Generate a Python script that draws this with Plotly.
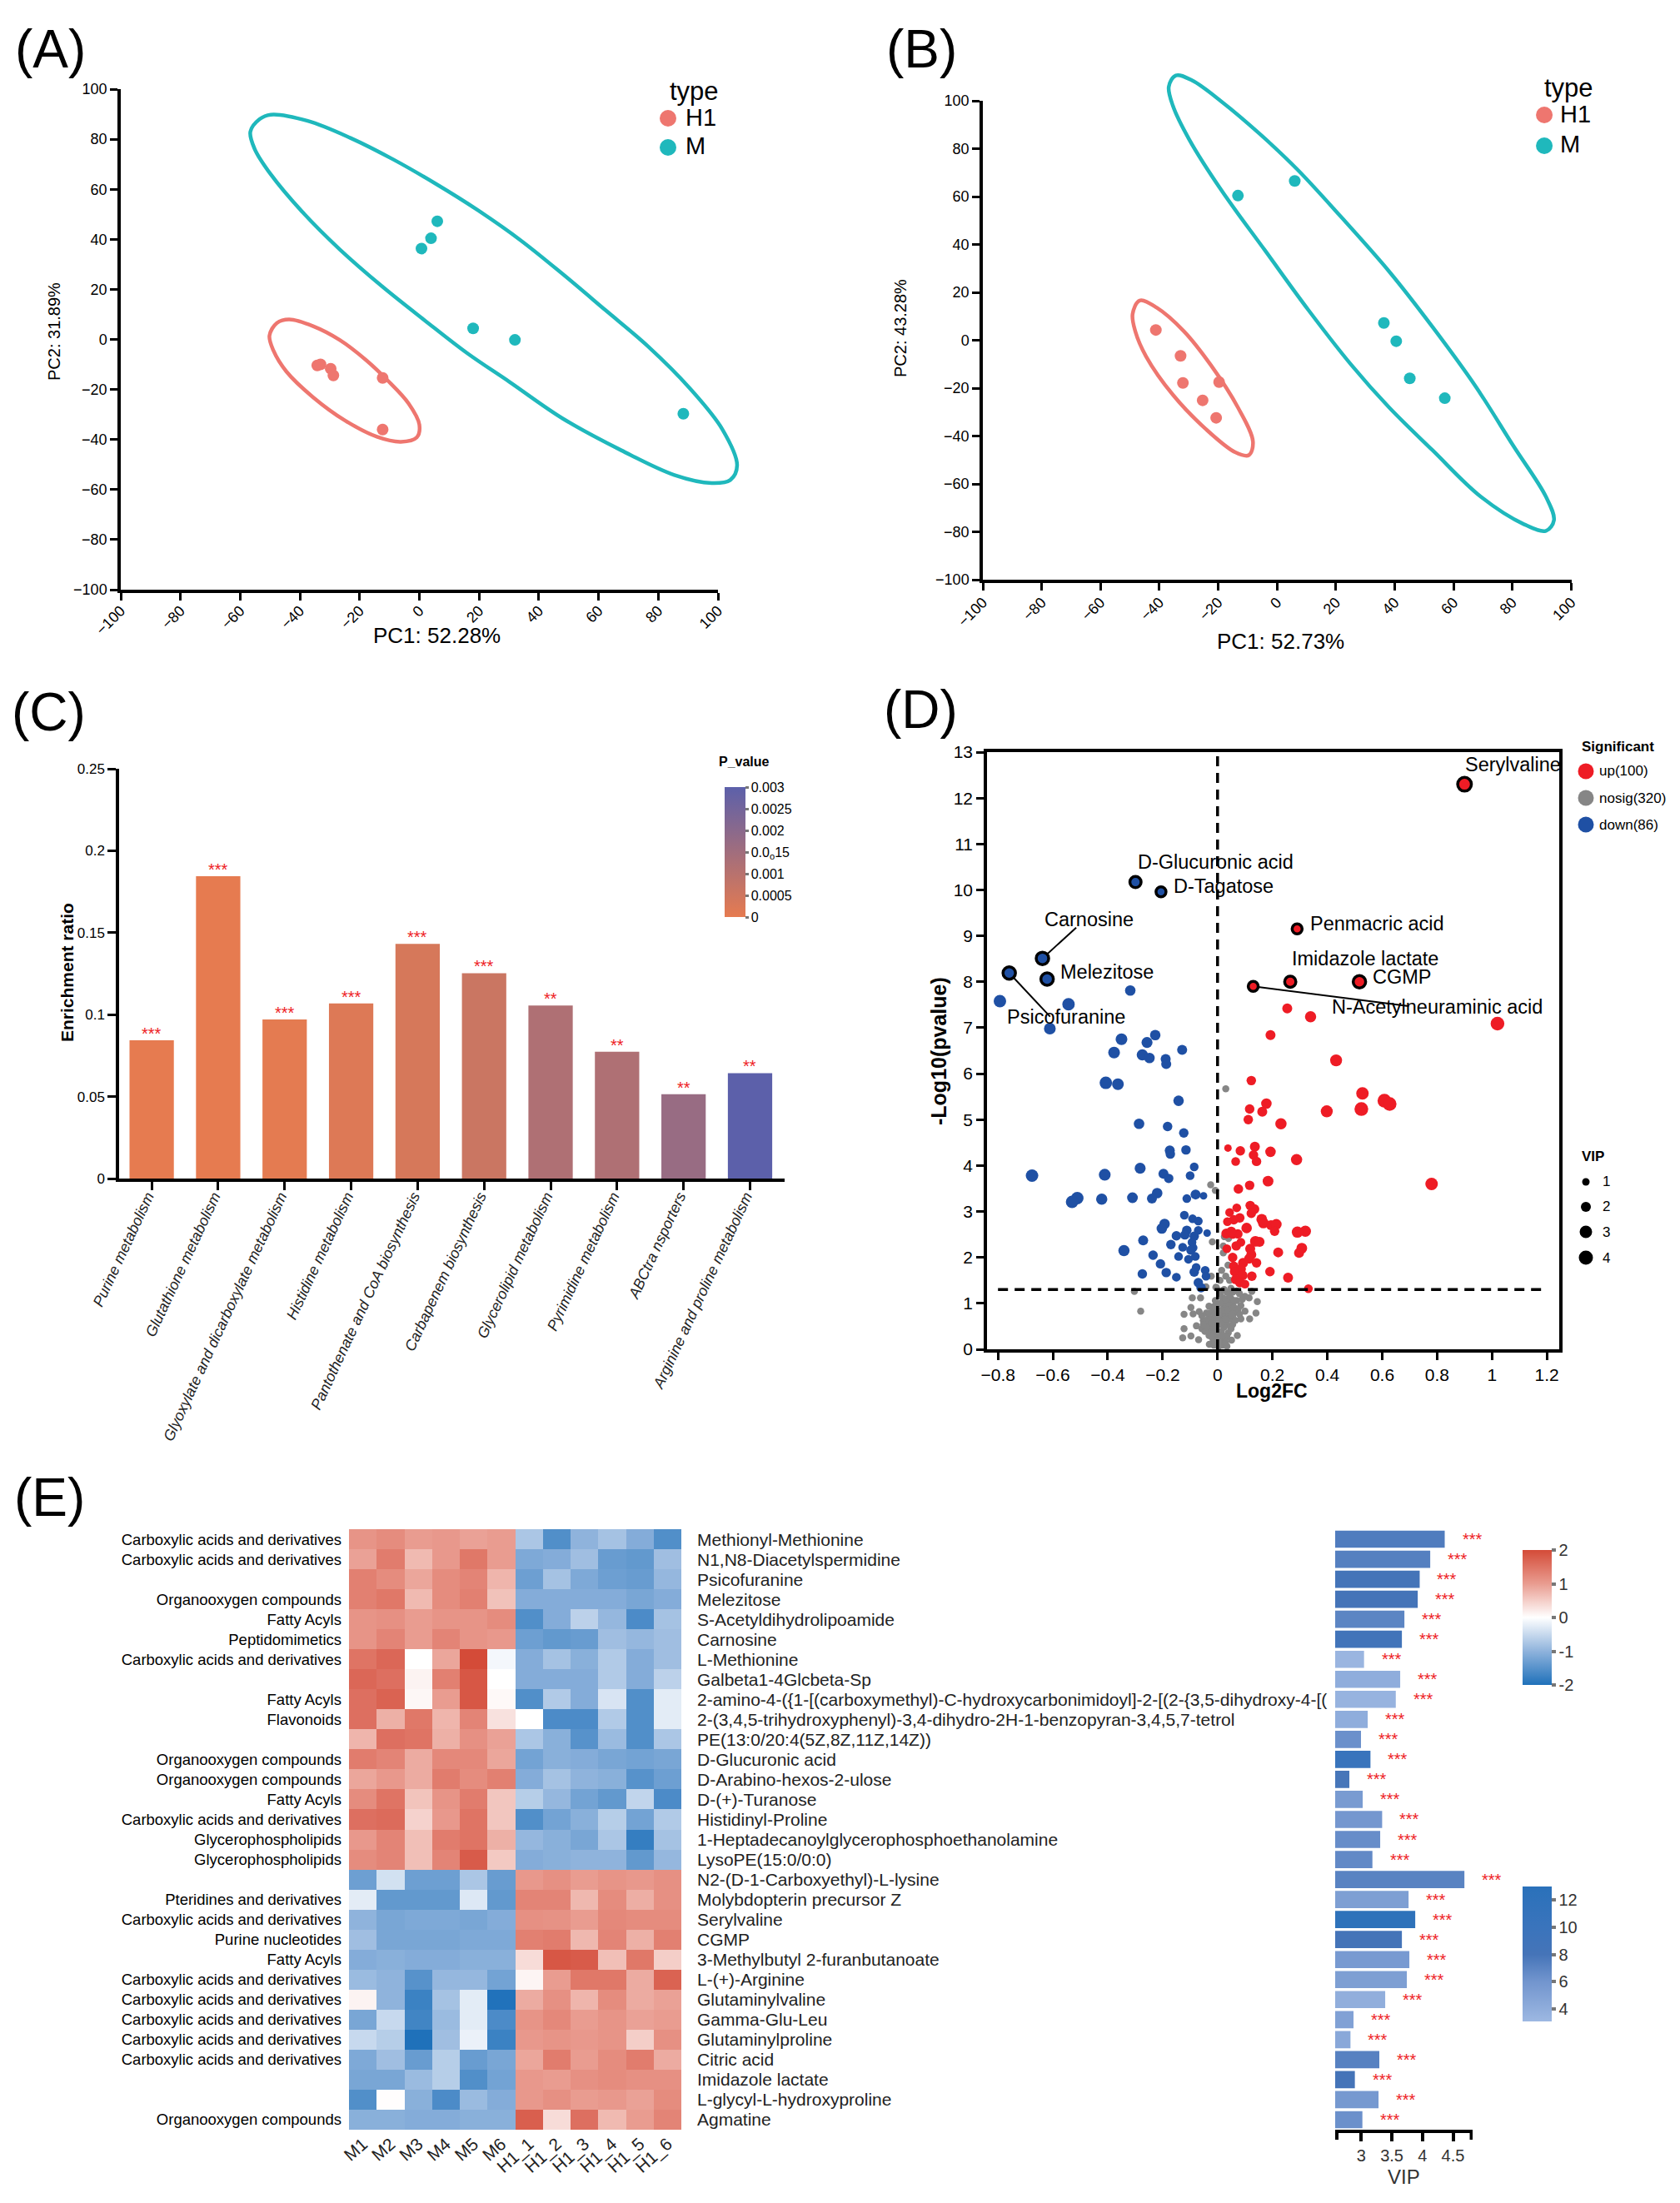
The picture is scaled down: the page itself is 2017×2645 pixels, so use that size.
import plotly.graph_objects as go

W = 2017
H = 2645
FONT = "Liberation Sans"
RED = "#EE766F"
TEAL = "#1FB8BC"

# panel A, values
a_h1_x = [-34.2, -33.1, -29.7, -28.8, -12.3, -12.3]
a_h1_y = [-10.4, -10.0, -11.7, -14.4, -15.4, -36.0]
a_m_x = [6.0, 3.9, 0.7, 18.0, 32.0, 88.4]
a_m_y = [47.2, 40.4, 36.3, 4.4, -0.2, -29.7]
a_h1_ell_x = [-50.2, -47.7, -43.6, -35.6, -26.7, -17.8, -10.7, -3.6, 0, -0.9, -6.2, -14.2, -24.9, -35.6, -44.5, -48.9, -50.2]
a_h1_ell_y = [1.5, 6.6, 8.0, 5.3, -0.2, -8.3, -16.3, -25.6, -34.1, -39.2, -40.9, -38.9, -32.4, -23.1, -12.9, -4.4, 1.5]
a_m_ell_x = [-56.6, -53.5, -49.8, -37.4, -23.1, -8.9, 5.3, 19.6, 33.8, 48.0, 62.3, 76.5, 90.7, 101.4, 106.4, 104.1, 97.9, 85.4, 67.6, 48.0, 30.2, 16.0, 1.8, -12.5, -26.7, -39.1, -49.8, -55.2, -56.6]
a_m_ell_y = [83.0, 88.0, 89.8, 87.3, 80.5, 72.0, 62.3, 51.6, 39.7, 26.1, 11.7, -2.7, -19.7, -35.8, -50.3, -56.2, -57.4, -54.2, -44.3, -31.6, -17.0, -5.5, 7.6, 21.2, 36.0, 50.8, 66.0, 76.2, 83.0]

# panel B
b_h1_x = [-41.2, -32.8, -32.0, -19.7, -25.3, -20.7]
b_h1_y = [4.3, -6.5, -17.8, -17.5, -25.1, -32.4]
b_m_x = [-13.3, 6.0, 36.3, 40.5, 45.1, 57.0]
b_m_y = [60.4, 66.5, 7.2, -0.4, -15.9, -24.2]
b_h1_ell_x = [-49.1, -46.7, -40.9, -31.7, -22.5, -13.3, -8.2, -9.6, -14.2, -24.3, -35.4, -44.5, -48.2, -49.1]
b_h1_ell_y = [10.9, 16.6, 13.6, 3.8, -10.4, -28.1, -42.3, -48.0, -46.8, -37.0, -22.8, -6.8, 3.8, 10.9]
b_m_ell_x = [-36.8, -34.4, -28.9, -18.8, -6.0, 6.9, 21.6, 38.1, 52.8, 67.5, 80.3, 91.4, 94.1, 91.4, 84.0, 69.3, 52.8, 38.1, 25.3, 10.6, -4.1, -18.8, -29.8, -35.4, -36.8]
b_m_ell_y = [105.9, 110.6, 108.5, 99.6, 86.3, 71.3, 51.7, 28.7, 5.6, -19.3, -44.1, -65.4, -75.2, -79.6, -76.9, -65.4, -45.9, -28.1, -10.4, 12.7, 37.5, 62.4, 83.7, 97.9, 105.9]

# panel C
pathways = ["Purine metabolism", "Glutathione metabolism", "Glyoxylate and dicarboxylate metabolism",
            "Histidine metabolism", "Pantothenate and CoA biosynthesis", "Carbapenem biosynthesis",
            "Glycerolipid metabolism", "Pyrimidine metabolism", "ABCtra nsporters",
            "Arginine and proline metabolism"]
enrichment = [0.0844, 0.1844, 0.097, 0.1068, 0.1432, 0.1253, 0.1056, 0.0773, 0.0514, 0.0643]
p_values = [0.00001, 0.00001, 0.00005, 0.0002, 0.00035, 0.0006, 0.0012, 0.0012, 0.0017, 0.003]
path_stars = ["***", "***", "***", "***", "***", "***", "**", "**", "**", "**"]
p_ticks = [0, 0.0005, 0.001, 0.0015, 0.002, 0.0025, 0.003]
p_tick_text = ["0", "0.0005", "0.001", "0.0<sub>o</sub>15", "0.002", "0.0025", "0.003"]

# panel D
up_x = [1.02, .254, .339, .193, .432, .123, .528, .608, .627, .524, .398, .178, .117, .163, .112, .231, .038, .083, .136, .193, .131, .142, .066, .288, .78, .184, .117, .076, .119, .134, .07, .044, .123, .081, .059, .036, .161, .167, .195, .214, .208, .106, .32, .291, .032, .055, .074, .05, .138, .153, .085, .068, .119, .034, .307, .297, .221, .123, .055, .115, .142, .093, .059, .085, .062, .191, .091, .125, .257, .066, .081, .1, .331]
up_y = [7.09, 7.42, 7.24, 6.84, 6.29, 5.85, 5.57, 5.41, 5.34, 5.23, 5.18, 5.35, 5.23, 5.17, 5.0, 4.91, 4.38, 4.32, 4.41, 4.3, 4.23, 4.09, 4.09, 4.13, 3.6, 3.66, 3.57, 3.49, 3.13, 3.05, 3.08, 2.98, 2.96, 2.86, 2.82, 2.78, 2.83, 2.75, 2.7, 2.72, 2.57, 2.64, 2.57, 2.55, 2.52, 2.51, 2.51, 2.56, 2.35, 2.34, 2.33, 2.25, 2.19, 2.19, 2.2, 2.1, 2.11, 2.06, 2.0, 1.97, 1.88, 1.88, 1.81, 1.75, 1.69, 1.69, 1.61, 1.59, 1.56, 1.52, 1.45, 1.42, 1.32]
up_vip = [3.5, 2, 2.5, 2, 2.8, 1.8, 3, 3.5, 3.5, 3.5, 2.8, 2.2, 1.8, 2, 1.8, 2.5, 1, 1.8, 2, 2.2, 1.8, 1.8, 1.5, 2.5, 3, 2.3, 1.8, 1.8, 1.8, 2, 1.5, 1.5, 1.8, 1.8, 1.8, 1.5, 2.3, 2.3, 2, 2.3, 1.8, 2.2, 2.5, 2.5, 2, 2, 1.8, 2, 2.3, 2, 1.5, 1.8, 2, 1.5, 2.3, 2, 2, 2, 1.8, 2, 1.8, 2, 1.8, 2, 1.8, 1.8, 2, 1.8, 2, 1.8, 1.8, 1.5, 1.5]
down_x = [-.793, -.543, -.318, -.611, -.35, -.227, -.257, -.129, -.377, -.274, -.248, -.189, -.187, -.407, -.363, -.142, -.286, -.182, -.123, -.174, -.172, -.115, -.085, -.282, -.197, -.178, -.1, -.411, -.676, -.22, -.08, -.051, -.112, -.239, -.31, -.422, -.511, -.53, -.121, -.091, -.07, -.193, -.203, -.112, -.07, -.038, -.15, -.119, -.085, -.271, -.093, -.17, -.127, -.089, -.097, -.341, -.235, -.142, -.106, -.081, -.208, -.078, -.045, -.085, -.187, -.042, -.274, -.15, -.07, -.06]
down_y = [7.58, 7.51, 7.81, 6.98, 6.75, 6.84, 6.68, 6.52, 6.46, 6.41, 6.34, 6.32, 6.21, 5.8, 5.77, 5.41, 4.91, 4.85, 4.71, 4.33, 4.25, 4.34, 3.97, 3.94, 3.82, 3.72, 3.78, 3.8, 3.78, 3.4, 3.37, 3.34, 3.28, 3.28, 3.3, 3.27, 3.29, 3.21, 2.92, 2.84, 2.79, 2.73, 2.63, 2.59, 2.59, 2.53, 2.47, 2.49, 2.46, 2.37, 2.33, 2.28, 2.22, 2.21, 2.16, 2.15, 2.05, 2.02, 1.96, 2.02, 1.86, 1.78, 1.72, 1.68, 1.67, 1.59, 1.64, 1.57, 1.45, 1.34]
down_vip = [3, 3, 2.2, 2.7, 2.7, 2.2, 2.4, 2, 2.7, 2.5, 2.2, 2, 2, 3, 2.7, 2.2, 2.2, 1.8, 1.8, 2, 1.8, 1.8, 1.5, 2.4, 2, 1.8, 1.5, 2.7, 3, 2.2, 2, 1, 1.5, 2, 2.3, 2.5, 3, 3, 1.5, 1.5, 1.5, 2.2, 2.2, 1.8, 1.5, 1, 1.8, 1.8, 1.8, 2, 1.5, 1.8, 1.5, 1.5, 1.8, 2.5, 1.8, 1.5, 1.5, 1.5, 1.8, 1.5, 1.5, 1.8, 1.8, 1.5, 1.8, 1.5, 1.8, 1.8]
nosig_x = [-.006, .125, .115, .145, .14, .117, .085, .1, .085, .07, .049, .019, -.008, -.031, -.067, -.097, -.092, -.062, -.122, -.089, -.122, -.127, -.097, -.069, -.077, -.052, -.057, -.03, -.021, -.036, -.046, -.031, -.016, -.001, .019, .034, .051, .072, .039, .055, .034, .014, -.006, .014, .004, .024, .044, .065, .044, .024, .009, .029, -.016, -.034, -.057, .009, .034, .055, .08, .019, .039, .055, -.016, -.021, -.001, .024, -.001, -.014, .009, .055, .03, -.025, -.008, -.303, -.28, -.019, .021, .025, .04, .038, .015, .03, .044, .009, -.023, -.004, .021, -.042,
           -.041, -.046, -.031, -.011, -.021, -.006, .009, .019, .029, .039, .049, .06, .034, .014, -.001, -.011, .009, .029, .044, .06, .075, .08, .065, .049, .034, .019, -.006, -.021, -.036, -.011, .004, .029, -.041, -.052, .024, .049, .07, .1, .09]
nosig_y = [1.35, 1.26, 1.12, 1.04, .79, .66, .66, .83, .95, 1.06, 1.1, 1.12, 1.06, .94, .82, .91, 1.12, 1.12, .76, .77, .45, .25, .29, .21, .51, .63, .45, .11, .66, .54, .39, .3, .21, .09, .09, .07, .2, .3, .36, .54, .54, .66, .54, .39, .24, .21, .66, .82, .88, .91, .76, .76, .85, .66, .73, 1.21, 1.24, 1.24, 1.21, 1.03, 1.0, .97, .39, .48, .36, .48, .66, .09, .15, .73, 5.67, 3.58, 3.46, 1.26, .83, 2.34, 2.25, 2.45, 2.41, 1.83, 1.72, 1.59, 1.5, 1.5, 1.59, 1.34, 2.1, 1.36,
           .79, .6, .79, .76, .57, .45, .54, .6, .66, .79, .76, .91, .85, .85, .85, .94, 1.0, 1.09, 1.15, 1.06, .88, .76, .63, .45, .27, .3, .3, .27, .39, .15, .06, .15, .48, .54, 1.3, 1.33, 1.27, 1.15, 1.09]
key_up_x = [.90, .29, .265, .517, .13]
key_up_y = [12.3, 9.15, 8.0, 8.0, 7.9]
key_up_vip = [3.5, 2, 2.5, 3, 2]
key_down_x = [-.299, -.206, -.638, -.621, -.759]
key_down_y = [10.17, 9.96, 8.51, 8.06, 8.19]
key_down_vip = [2.5, 2, 3, 3, 3]
volcano_names = ["Serylvaline", "D-Glucuronic acid", "D-Tagatose", "Carnosine", "Penmacric acid",
                 "Imidazole lactate", "CGMP", "Melezitose", "N-Acetylneuraminic acid", "Psicofuranine"]
volcano_name_x = [.901, -.291, -.161, -.632, .337, .271, .564, -.572, .416, -.768]
volcano_name_y = [12.73, 10.6, 10.08, 9.35, 9.27, 8.51, 8.11, 8.22, 7.45, 7.23]

# panel E
samples = ["M1", "M2", "M3", "M4", "M5", "M6", "H1_1", "H1_2", "H1_3", "H1_4", "H1_5", "H1_6"]
classes = ["Carboxylic acids and derivatives", "Carboxylic acids and derivatives", "", "Organooxygen compounds",
           "Fatty Acyls", "Peptidomimetics", "Carboxylic acids and derivatives", "", "Fatty Acyls", "Flavonoids", "",
           "Organooxygen compounds", "Organooxygen compounds", "Fatty Acyls", "Carboxylic acids and derivatives",
           "Glycerophospholipids", "Glycerophospholipids", "", "Pteridines and derivatives",
           "Carboxylic acids and derivatives", "Purine nucleotides", "Fatty Acyls", "Carboxylic acids and derivatives",
           "Carboxylic acids and derivatives", "Carboxylic acids and derivatives", "Carboxylic acids and derivatives",
           "Carboxylic acids and derivatives", "", "", "Organooxygen compounds"]
metabolites = ["Methionyl-Methionine", "N1,N8-Diacetylspermidine", "Psicofuranine", "Melezitose",
               "S-Acetyldihydrolipoamide", "Carnosine", "L-Methionine", "Galbeta1-4Glcbeta-Sp",
               "2-amino-4-({1-[(carboxymethyl)-C-hydroxycarbonimidoyl]-2-[(2-{3,5-dihydroxy-4-[(",
               "2-(3,4,5-trihydroxyphenyl)-3,4-dihydro-2H-1-benzopyran-3,4,5,7-tetrol", "PE(13:0/20:4(5Z,8Z,11Z,14Z))",
               "D-Glucuronic acid", "D-Arabino-hexos-2-ulose", "D-(+)-Turanose", "Histidinyl-Proline",
               "1-Heptadecanoylglycerophosphoethanolamine", "LysoPE(15:0/0:0)", "N2-(D-1-Carboxyethyl)-L-lysine",
               "Molybdopterin precursor Z", "Serylvaline", "CGMP", "3-Methylbutyl 2-furanbutanoate", "L-(+)-Arginine",
               "Glutaminylvaline", "Gamma-Glu-Leu", "Glutaminylproline", "Citric acid", "Imidazole lactate",
               "L-glycyl-L-hydroxyproline", "Agmatine"]
heat_rows = [
    [1.1, 1.2, 1.0, 1.05, 0.95, 1.0, -0.75, -1.55, -1.0, -0.8, -1.1, -1.55],
    [0.95, 1.4, 0.7, 1.05, 1.45, 1.0, -1.15, -1.1, -0.85, -1.35, -1.4, -0.85],
    [1.35, 1.2, 0.9, 1.2, 1.3, 0.75, -1.3, -0.8, -1.15, -1.3, -1.35, -0.95],
    [1.35, 1.45, 0.7, 1.2, 1.35, 0.62, -1.1, -1.1, -1.1, -1.1, -1.2, -1.1],
    [1.1, 1.15, 1.0, 1.1, 1.1, 1.2, -1.55, -1.1, -0.6, -0.95, -1.6, -0.8],
    [1.1, 1.3, 1.0, 1.3, 1.1, 1.05, -1.3, -1.4, -1.35, -0.85, -0.95, -0.85],
    [1.5, 1.65, 0.0, 0.9, 2.0, -0.1, -1.1, -0.8, -1.05, -0.7, -1.1, -0.85],
    [1.65, 1.55, 0.12, 1.35, 1.85, 0.0, -1.1, -1.1, -1.1, -0.7, -1.1, -0.6],
    [1.55, 1.7, 0.08, 1.0, 1.85, 0.06, -1.55, -0.7, -1.1, -0.35, -1.55, -0.25],
    [1.55, 0.8, 1.45, 0.75, 1.3, 0.3, 0.0, -1.6, -1.6, -0.7, -1.55, -0.25],
    [0.75, 1.55, 1.5, 0.8, 1.15, 0.95, -0.75, -1.05, -1.5, -0.9, -1.55, -0.75],
    [1.4, 1.3, 0.85, 1.25, 1.25, 0.9, -1.25, -1.05, -1.1, -1.2, -1.25, -1.2],
    [0.9, 1.05, 0.85, 1.4, 1.2, 1.35, -1.1, -0.8, -1.0, -1.05, -1.5, -1.3],
    [1.2, 1.5, 0.6, 1.1, 1.4, 0.58, -0.65, -0.95, -1.25, -1.4, -0.55, -1.6],
    [1.55, 1.6, 0.45, 1.05, 1.5, 0.58, -1.55, -1.25, -1.05, -0.65, -1.25, -0.7],
    [1.05, 1.3, 0.65, 1.4, 1.5, 0.8, -0.95, -1.05, -1.2, -0.75, -1.8, -0.8],
    [1.2, 1.3, 0.65, 1.3, 1.8, 0.55, -1.1, -1.05, -1.0, -1.0, -1.4, -0.95],
    [-1.3, -0.4, -1.3, -1.3, -0.75, -1.35, 1.05, 1.15, 1.0, 1.1, 1.05, 1.15],
    [-0.25, -1.4, -1.4, -1.4, -0.3, -1.4, 1.3, 1.3, 0.72, 1.2, 0.82, 1.15],
    [-1.0, -1.2, -1.15, -1.15, -1.2, -1.1, 1.15, 1.12, 1.0, 1.25, 1.2, 1.2],
    [-0.85, -1.2, -1.2, -1.2, -1.15, -1.15, 1.35, 1.4, 0.72, 1.3, 0.8, 1.35],
    [-1.1, -1.05, -1.1, -1.1, -1.05, -1.05, 0.35, 1.85, 1.8, 0.65, 1.45, 0.5],
    [-0.9, -1.0, -1.5, -0.95, -0.95, -1.25, 0.1, 1.0, 1.45, 1.45, 0.85, 1.7],
    [0.12, -1.0, -1.75, -0.8, -0.25, -1.98, 0.85, 1.15, 0.75, 1.2, 0.85, 0.95],
    [-1.2, -0.5, -1.7, -0.9, -0.25, -1.6, 1.1, 1.25, 1.0, 1.1, 0.95, 1.0],
    [-0.5, -0.65, -2.0, -0.85, -0.18, -1.75, 1.05, 1.1, 1.05, 1.1, 0.5, 1.15],
    [-1.15, -0.85, -1.35, -0.65, -1.35, -1.2, 0.9, 1.4, 1.0, 1.2, 1.4, 0.85],
    [-1.2, -1.2, -0.9, -0.65, -1.55, -1.25, 1.05, 1.0, 1.15, 1.2, 1.15, 1.15],
    [-1.55, 0.02, -1.05, -1.6, -0.9, -1.1, 1.05, 1.15, 1.0, 1.05, 0.95, 1.2],
    [-1.05, -1.05, -1.1, -1.1, -1.05, -1.05, 1.75, 0.35, 1.55, 0.7, 1.0, 1.3],
]
vip_values = [4.364, 4.127, 3.955, 3.923, 3.705, 3.664, 3.045, 3.636, 3.564, 3.105, 2.995, 3.15, 2.805, 3.023, 3.341,
              3.309, 3.182, 4.686, 3.773, 3.882, 3.664, 3.786, 3.745, 3.391, 2.873, 2.823, 3.295, 2.895, 3.282, 3.018]
vip_logp = [7.5, 7.3, 8.2, 8.06, 7.0, 8.5, 3.3, 4.0, 3.5, 4.0, 6.3, 10.17, 7.9, 5.5, 5.8, 6.5, 6.7, 7.1, 5.2, 12.3,
            8.0, 5.6, 5.2, 3.9, 5.0, 4.4, 7.2, 8.0, 5.7, 6.3]


# pixel helpers, y counted from the top of the page
def dom_x(a, b):
    return [a / W, b / W]


def dom_y(top, bottom):
    return [1 - bottom / H, 1 - top / H]


annotations = []
shapes = []


def txt(px, py, text, size, anchor="center", angle=0, color="black", bold=False):
    annotations.append(dict(xref="paper", yref="paper", x=px / W, y=1 - py / H, text=f"<b>{text}</b>" if bold else text,
                            showarrow=False, xanchor=anchor, yanchor="middle", textangle=angle,
                            font=dict(family=FONT, size=size, color=color)))


def key(cx, cy, d, color):
    shapes.append(dict(type="circle", xref="paper", yref="paper", x0=(cx - d / 2) / W, x1=(cx + d / 2) / W,
                       y0=1 - (cy + d / 2) / H, y1=1 - (cy - d / 2) / H, fillcolor=color, line_width=0))


def axis(domain, anchor, size=18, **kw):
    ax = dict(domain=domain, anchor=anchor, showgrid=False, zeroline=False, showline=True, linecolor="black",
              linewidth=3.5, ticks="outside", ticklen=9, tickwidth=3, tickcolor="black",
              tickfont=dict(family=FONT, size=size, color="black"))
    ax.update(kw)
    return ax


def hidden_axis(domain, anchor, lim):
    # same scale as the drawn axis, just wider, so the ellipses can run past +-100
    return dict(domain=domain, anchor=anchor, range=lim, visible=False, showgrid=False, zeroline=False)


fig = go.Figure()


def pca_panel(xa, ya, exa, eya, h1x, h1y, mx, my, h1ex, h1ey, mex, mey):
    for ex, ey, c in [(h1ex, h1ey, RED), (mex, mey, TEAL)]:
        fig.add_trace(go.Scatter(x=ex, y=ey, mode="lines", line=dict(color=c, width=4.5, shape="spline", smoothing=1),
                                 showlegend=False, xaxis=exa, yaxis=eya))
    for px, py, c in [(h1x, h1y, RED), (mx, my, TEAL)]:
        fig.add_trace(go.Scatter(x=px, y=py, mode="markers", marker=dict(color=c, size=14), cliponaxis=False,
                                 showlegend=False, xaxis=xa, yaxis=ya))


pca_panel("x", "y", "x7", "y7", a_h1_x, a_h1_y, a_m_x, a_m_y, a_h1_ell_x, a_h1_ell_y, a_m_ell_x, a_m_ell_y)
pca_panel("x2", "y2", "x8", "y8", b_h1_x, b_h1_y, b_m_x, b_m_y, b_h1_ell_x, b_h1_ell_y, b_m_ell_x, b_m_ell_y)

# enrichment bars
fig.add_trace(go.Bar(x=pathways, y=enrichment, width=0.667, showlegend=False, xaxis="x3", yaxis="y3",
                     marker=dict(color=p_values, cmin=0, cmax=0.003, line_width=0,
                                 colorscale=[[0, "#E67B50"], [1, "#5C60AA"]],
                                 colorbar=dict(x=870 / W, xanchor="left", y=1 - 1101 / H, yanchor="bottom",
                                               lenmode="pixels", len=156, thicknessmode="pixels", thickness=25,
                                               xpad=0, ypad=0, outlinewidth=0, tickvals=p_ticks, ticktext=p_tick_text,
                                               ticks="outside", ticklen=4, tickwidth=3, tickcolor="#777777",
                                               tickfont=dict(family=FONT, size=16, color="black")))))
for name, v, s in zip(pathways, enrichment, path_stars):
    annotations.append(dict(xref="x3", yref="y3", x=name, y=v, text=s, showarrow=False, yanchor="bottom", yshift=-5,
                            font=dict(family=FONT, size=20, color="#EE1C25")))


# volcano
def vip_size(v):
    return [6 + 3 * i for i in v]


def dots(x, y, color, size, edge=0):
    fig.add_trace(go.Scatter(x=x, y=y, mode="markers", showlegend=False, xaxis="x4", yaxis="y4",
                             marker=dict(color=color, size=size, opacity=1, line=dict(color="black", width=edge))))


def volcano_line(x, y, **kw):
    fig.add_trace(go.Scatter(x=x, y=y, mode="lines", line=dict(color="black", **kw), showlegend=False,
                             xaxis="x4", yaxis="y4"))


dots(nosig_x, nosig_y, "#868686", 8.5)
dots(down_x, down_y, "#1F50A4", vip_size(down_vip))
dots(up_x, up_y, "#EE1C25", vip_size(up_vip))
volcano_line([-.638, -.515], [8.51, 9.18], width=2)
volcano_line([-.759, -.61], [8.19, 7.24], width=2)
volcano_line([.13, .697], [7.9, 7.47], width=2)
dots(key_down_x, key_down_y, "#1F50A4", vip_size(key_down_vip), edge=3.5)
dots(key_up_x, key_up_y, "#EE1C25", vip_size(key_up_vip), edge=3.5)
volcano_line([0, 0], [0, 13], width=3.5, dash="12px,8px")
volcano_line([-0.8, 1.19], [1.3, 1.3], width=3.5, dash="12px,8px")
for name, x, y in zip(volcano_names, volcano_name_x, volcano_name_y):
    annotations.append(dict(xref="x4", yref="y4", x=x, y=y, text=name, showarrow=False, xanchor="left",
                            yanchor="middle", xshift=-2, font=dict(family=FONT, size=23.5, color="black")))

# heatmap
row_ids = list(range(len(metabolites)))
class_rows = [r for r in row_ids if classes[r]]
class_text = [classes[r] for r in class_rows]
fig.add_trace(go.Heatmap(z=heat_rows, x=samples, y=row_ids, zmin=-2, zmax=2, xaxis="x5", yaxis="y5",
                         colorscale=[[0, "#1F71BA"], [0.25, "#8FB3DC"], [0.5, "#FFFFFF"], [0.75, "#E99C90"],
                                     [1, "#D44B38"]],
                         colorbar=dict(x=1828 / W, xanchor="left", y=1 - 2023 / H, yanchor="bottom", lenmode="pixels",
                                       len=162, thicknessmode="pixels", thickness=35, xpad=0, ypad=0, outlinewidth=0,
                                       tickvals=[-2, -1, 0, 1, 2], ticktext=["-2", "-1", "0", "1", "2"],
                                       ticks="outside", ticklen=5, tickwidth=4, tickcolor="#777777",
                                       tickfont=dict(family=FONT, size=20, color="#333333"))))
for name, r in zip(metabolites, row_ids):
    annotations.append(dict(xref="paper", yref="y5", x=835 / W, y=r, text=name, showarrow=False, xanchor="left",
                            yanchor="middle", font=dict(family=FONT, size=21, color="#222222")))

# VIP bars
fig.add_trace(go.Bar(x=vip_values, y=row_ids, orientation="h", width=0.86, showlegend=False, xaxis="x6", yaxis="y6",
                     marker=dict(color=vip_logp, cmin=3.07, cmax=13, line_width=0,
                                 colorscale=[[0, "#9DB8E2"], [0.295, "#7295CE"], [0.497, "#4574B8"], [0.698, "#3A74BC"],
                                             [1, "#2A71BA"]],
                                 colorbar=dict(x=1828 / W, xanchor="left", y=1 - 2427 / H, yanchor="bottom",
                                               lenmode="pixels", len=162, thicknessmode="pixels", thickness=35, xpad=0,
                                               ypad=0, outlinewidth=0, tickvals=[4, 6, 8, 10, 12], ticks="outside",
                                               ticklen=5, tickwidth=4, tickcolor="#777777",
                                               tickfont=dict(family=FONT, size=20, color="#333333")))))
for v, r in zip(vip_values, row_ids):
    annotations.append(dict(xref="x6", yref="y6", x=v, y=r, text="***", showarrow=False, xanchor="left",
                            yanchor="middle", xshift=19, font=dict(family=FONT, size=20, color="#EE1C25")))
# the axis ends have a tick with no number
for end in [2.6, 4.8]:
    shapes.append(dict(type="line", xref="x6", yref="paper", x0=end, x1=end, y0=1 - 2569 / H, y1=1 - 2557 / H,
                       line=dict(color="black", width=4)))

# plain text labels, legends
txt(60, 59, "(A)", 64)
txt(1106, 59, "(B)", 64)
txt(58, 855, "(C)", 64)
txt(1105, 852, "(D)", 64)
txt(59, 1798, "(E)", 64)

txt(524, 763, "PC1: 52.28%", 26)
txt(65, 398, "PC2: 31.89%", 20, angle=-90)
txt(1537, 770, "PC1: 52.73%", 26)
txt(1081, 394, "PC2: 43.28%", 20, angle=-90)

txt(833, 110, "type", 31)
txt(821, 141, "H1", 29, anchor="left")
txt(821, 175, "M", 29, anchor="left")
key(802, 142, 20, RED)
key(802, 177, 20, TEAL)

txt(1000 + 1363 / 1.542, 105, "type", 31)
txt(1000 + 1343 / 1.542, 137, "H1", 29, anchor="left")
txt(1000 + 1343 / 1.542, 173, "M", 29, anchor="left")
key(1000 + 1317 / 1.542, 138, 20, RED)
key(1000 + 1317 / 1.542, 175, 20, TEAL)

txt(80, 1168, "Enrichment ratio", 21, angle=-90, bold=True)
txt(893, 915, "P_value", 16, bold=True)

txt(1527, 1670, "Log2FC", 23, bold=True)
txt(1127, 1262, "-Log10(pvalue)", 25, angle=-90, bold=True)
txt(1897, 896, "Significant", 17, anchor="left", bold=True)
for y, c, t in [(926, "#EE1C25", "up(100)"), (958, "#868686", "nosig(320)"), (990, "#1F50A4", "down(86)")]:
    key(1904, y, 19, c)
    txt(1918, y, t, 17, anchor="left")
txt(1897, 1389, "VIP", 17, anchor="left", bold=True)
for y, d, t in [(1419, 9, "1"), (1449, 12, "2"), (1479, 15, "3"), (1510, 17, "4")]:
    key(1904, y, d, "black")
    txt(1928, y, t, 17)
txt(1685, 2613, "VIP", 24, color="#333333")

fig.update_layout(
    width=W, height=H, margin=dict(l=0, r=0, t=0, b=0), paper_bgcolor="white", plot_bgcolor="rgba(0,0,0,0)",
    template="none", showlegend=False, annotations=annotations, shapes=shapes, barmode="overlay",
    xaxis=axis(dom_x(145, 862), "y", range=[-100, 100], tick0=0, dtick=20, tickangle=-45, ticklabelstandoff=-5),
    yaxis=axis(dom_y(107, 708), "x", range=[-100, 100], tick0=0, dtick=20),
    xaxis2=axis(dom_x(1180, 1886.5), "y2", range=[-100, 100], tick0=0, dtick=20, tickangle=-45, ticklabelstandoff=-3),
    yaxis2=axis(dom_y(121, 696), "x2", range=[-100, 100], tick0=0, dtick=20),
    xaxis3=axis(dom_x(143, 942), "y3", size=18, range=[-0.49, 9.52], tickangle=-65, ticklen=10, ticklabelstandoff=-10,
                ticklabelshift=-5, tickfont=dict(family=FONT, size=18, color="#222222", style="italic")),
    yaxis3=axis(dom_y(923, 1415), "x3", size=17, range=[0, 0.25], tickvals=[0, 0.05, 0.1, 0.15, 0.2, 0.25],
                ticktext=["0", "0.05", "0.1", "0.15", "0.2", "0.25"], ticklen=10),
    xaxis4=axis(dom_x(1185, 1872), "y4", size=21, range=[-0.84, 1.245], dtick=0.2, tick0=0, mirror=True),
    yaxis4=axis(dom_y(903, 1620), "x4", size=21, range=[0, 13], dtick=1, tick0=0, mirror=True),
    xaxis5=dict(domain=dom_x(419, 818), anchor="y5", showgrid=False, zeroline=False, showline=False, ticks="",
                tickangle=-42, tickfont=dict(family=FONT, size=21, color="#222222")),
    yaxis5=dict(domain=dom_y(1836, 2557), anchor="x5", showgrid=False, zeroline=False, showline=False, ticks="",
                range=[29.5, -0.5], tickvals=class_rows, ticktext=class_text, ticklabelstandoff=8,
                tickfont=dict(family=FONT, size=18.5, color="black")),
    xaxis6=axis(dom_x(1603, 1768), "y6", size=20, range=[2.573, 4.82], tickvals=[3, 3.5, 4, 4.5],
                ticktext=["3", "3.5", "4", "4.5"], ticklen=10, tickwidth=4,
                tickfont=dict(family=FONT, size=20, color="#333333")),
    yaxis6=dict(domain=dom_y(1836, 2557), anchor="x6", range=[29.5, -0.5], showgrid=False, zeroline=False,
                showline=False, showticklabels=False, ticks=""),
    # ellipse axes, 120 units each side at the scale of the drawn panels
    xaxis7=hidden_axis(dom_x(145 - 71.7, 862 + 71.7), "y7", [-120, 120]),
    yaxis7=hidden_axis(dom_y(107 - 60.1, 708 + 60.1), "x7", [-120, 120]),
    xaxis8=hidden_axis(dom_x(1180 - 70.65, 1886.5 + 70.65), "y8", [-120, 120]),
    yaxis8=hidden_axis(dom_y(121 - 57.5, 696 + 57.5), "x8", [-120, 120]),
)

fig.write_html("out.html", config={"displayModeBar": False}, post_script="document.body.style.margin='0';")
